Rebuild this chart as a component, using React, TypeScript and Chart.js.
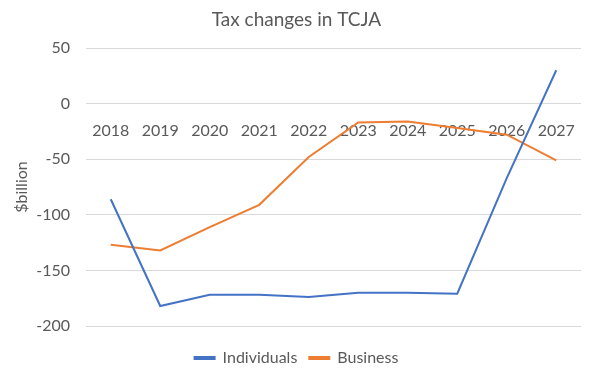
import React, { useEffect, useRef } from "react";
import { Chart, registerables } from "chart.js";

Chart.register(...registerables);

const categories = ["2018", "2019", "2020", "2021", "2022", "2023", "2024", "2025", "2026", "2027"];
const individuals = [-86, -182, -172, -172, -174, -170, -170, -171, -67, 30];
const business = [-127, -132, -111, -91, -48, -17, -16, -22, -28, -51];
const yTicks = { min: -200, max: 50, step: 50 };

const FONT = "Lato, 'Open Sans', sans-serif";
const TEXT = "#595959";

export default function App() {
  const ref = useRef<HTMLCanvasElement | null>(null);
  useEffect(() => {
    if (!ref.current) return;
    const chart = new Chart(ref.current, {
      type: "line",
      data: {
        labels: categories,
        datasets: [
          {
            label: "Individuals",
            data: individuals,
            borderColor: "#4472C4",
            backgroundColor: "#4472C4",
            borderWidth: 2,
            pointRadius: 0,
            tension: 0,
          },
          {
            label: "Business",
            data: business,
            borderColor: "#ED7D31",
            backgroundColor: "#ED7D31",
            borderWidth: 2,
            pointRadius: 0,
            tension: 0,
          },
        ],
      },
      options: {
        animation: false,
        responsive: false,
        maintainAspectRatio: false,
        layout: { padding: { left: 12, right: 9, top: 0, bottom: 2 } },
        plugins: {
          title: {
            display: true,
            text: "Tax changes in TCJA",
            color: TEXT,
            font: { family: FONT, size: 19, weight: "normal" },
            padding: { top: 8, bottom: 17.2 },
          },
          legend: {
            position: "bottom",
            labels: {
              color: TEXT,
              font: { family: FONT, size: 16 },
              boxWidth: 20,
              boxHeight: 2,
              padding: 12,
            },
          },
          tooltip: { enabled: false },
        },
        scales: {
          x: {
            type: "category",
            position: { y: 0 } as any,
            offset: true,
            grid: { display: true, color: "rgba(0,0,0,0)", drawTicks: true, tickLength: 14.4 },
            border: { display: false },
            ticks: { color: TEXT, font: { family: FONT, size: 16 }, maxRotation: 0, autoSkip: false },
          },
          x2: {
            type: "category",
            labels: categories,
            position: "bottom",
            display: true,
            grid: { display: false },
            border: { display: false },
            ticks: { display: false },
            afterFit: (s: any) => {
              s.height = 12;
            },
          },
          y: {
            position: "left",
            min: yTicks.min,
            max: yTicks.max,
            ticks: {
              stepSize: yTicks.step,
              color: TEXT,
              font: { family: FONT, size: 16 },
              padding: 16,
            },
            grid: { color: "#d9d9d9", drawTicks: false, lineWidth: 1 },
            border: { display: false },
            title: {
              display: true,
              text: "$billion",
              color: TEXT,
              font: { family: FONT, size: 16 },
              padding: { top: 0, bottom: 0 },
            },
            afterFit: (s: any) => {
              s.width = 74;
            },
          },
        },
      },
    });
    return () => chart.destroy();
  }, []);
  return (
    <div style={{ position: "absolute", left: 0, top: 0, width: 590, height: 378, background: "#fff" }}>
      <canvas ref={ref} width={590} height={378} style={{ width: 590, height: 378, display: "block" }} />
    </div>
  );
}
